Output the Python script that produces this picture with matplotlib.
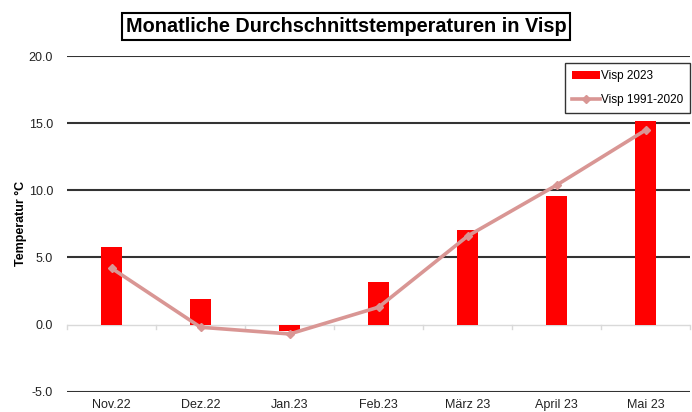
import numpy as np
import matplotlib
matplotlib.use('Agg')
import matplotlib.pyplot as plt

plt.rcParams['font.family'] = ['Liberation Sans', 'DejaVu Sans']

# --------- data
months = ['Nov.22', 'Dez.22', 'Jan.23', 'Feb.23', 'März 23', 'April 23', 'Mai 23']
visp_2023 = [5.8, 1.9, -0.45, 3.2, 7.05, 9.55, 15.15]
visp_norm = [4.2, -0.2, -0.7, 1.3, 6.6, 10.4, 14.5]
yticks = [-5.0, 0.0, 5.0, 10.0, 15.0, 20.0]

fig = plt.figure(figsize=(6.92, 4.12), dpi=100)
ax = fig.add_axes([0.0968, 0.0493, 0.901, 0.8147])

x = np.arange(len(months))
bars = ax.bar(x, visp_2023, width=0.236, color='#ff0000', label='Visp 2023', zorder=3)
line, = ax.plot(x, visp_norm, color='#d99694', linewidth=2.6, marker='D', markersize=4,
                label='Visp 1991-2020', zorder=4)

ax.set_xlim(-0.5, len(months) - 0.5)
ax.set_ylim(-5, 20)

# gridlines (no zero line, that's the category axis)
for yv in yticks:
    if yv != 0:
        ax.axhline(yv, color='#333333', linewidth=1.5, zorder=1)
ax.axhline(0, color='#d9d9d9', linewidth=1.0, zorder=2)
for b in np.arange(-0.5, len(months), 1.0):
    ax.plot([b, b], [0, -0.3], color='#d9d9d9', linewidth=1.0, zorder=2, clip_on=False)

for s in ax.spines.values():
    s.set_visible(False)

ax.set_yticks(yticks)
ax.set_yticklabels([f'{v:.1f}' for v in yticks], fontsize=9, color='#222222')
ax.set_xticks(x)
ax.set_xticklabels(months, fontsize=9, color='#222222')
ax.tick_params(axis='both', length=0, pad=5)
ax.tick_params(axis='y', pad=10)
ax.set_ylabel('Temperatur °C', fontsize=9, fontweight='bold', labelpad=1)

fig.text(0.5, 0.935, 'Monatliche Durchschnittstemperaturen in Visp', ha='center', va='center',
         fontsize=14.3, fontweight='bold',
         bbox=dict(boxstyle='square,pad=0.2', facecolor='white', edgecolor='black', linewidth=1.5))

leg = ax.legend([bars, line], ['Visp 2023', 'Visp 1991-2020'], loc='upper right',
                bbox_to_anchor=(1.0, 0.98), fontsize=8.5, frameon=True,
                fancybox=False, edgecolor='black', borderpad=0.6, labelspacing=1.0,
                handlelength=2.4, handletextpad=0.1, borderaxespad=0.0)
leg.get_frame().set_linewidth(1.0)

fig.savefig('out.png', dpi=100)
